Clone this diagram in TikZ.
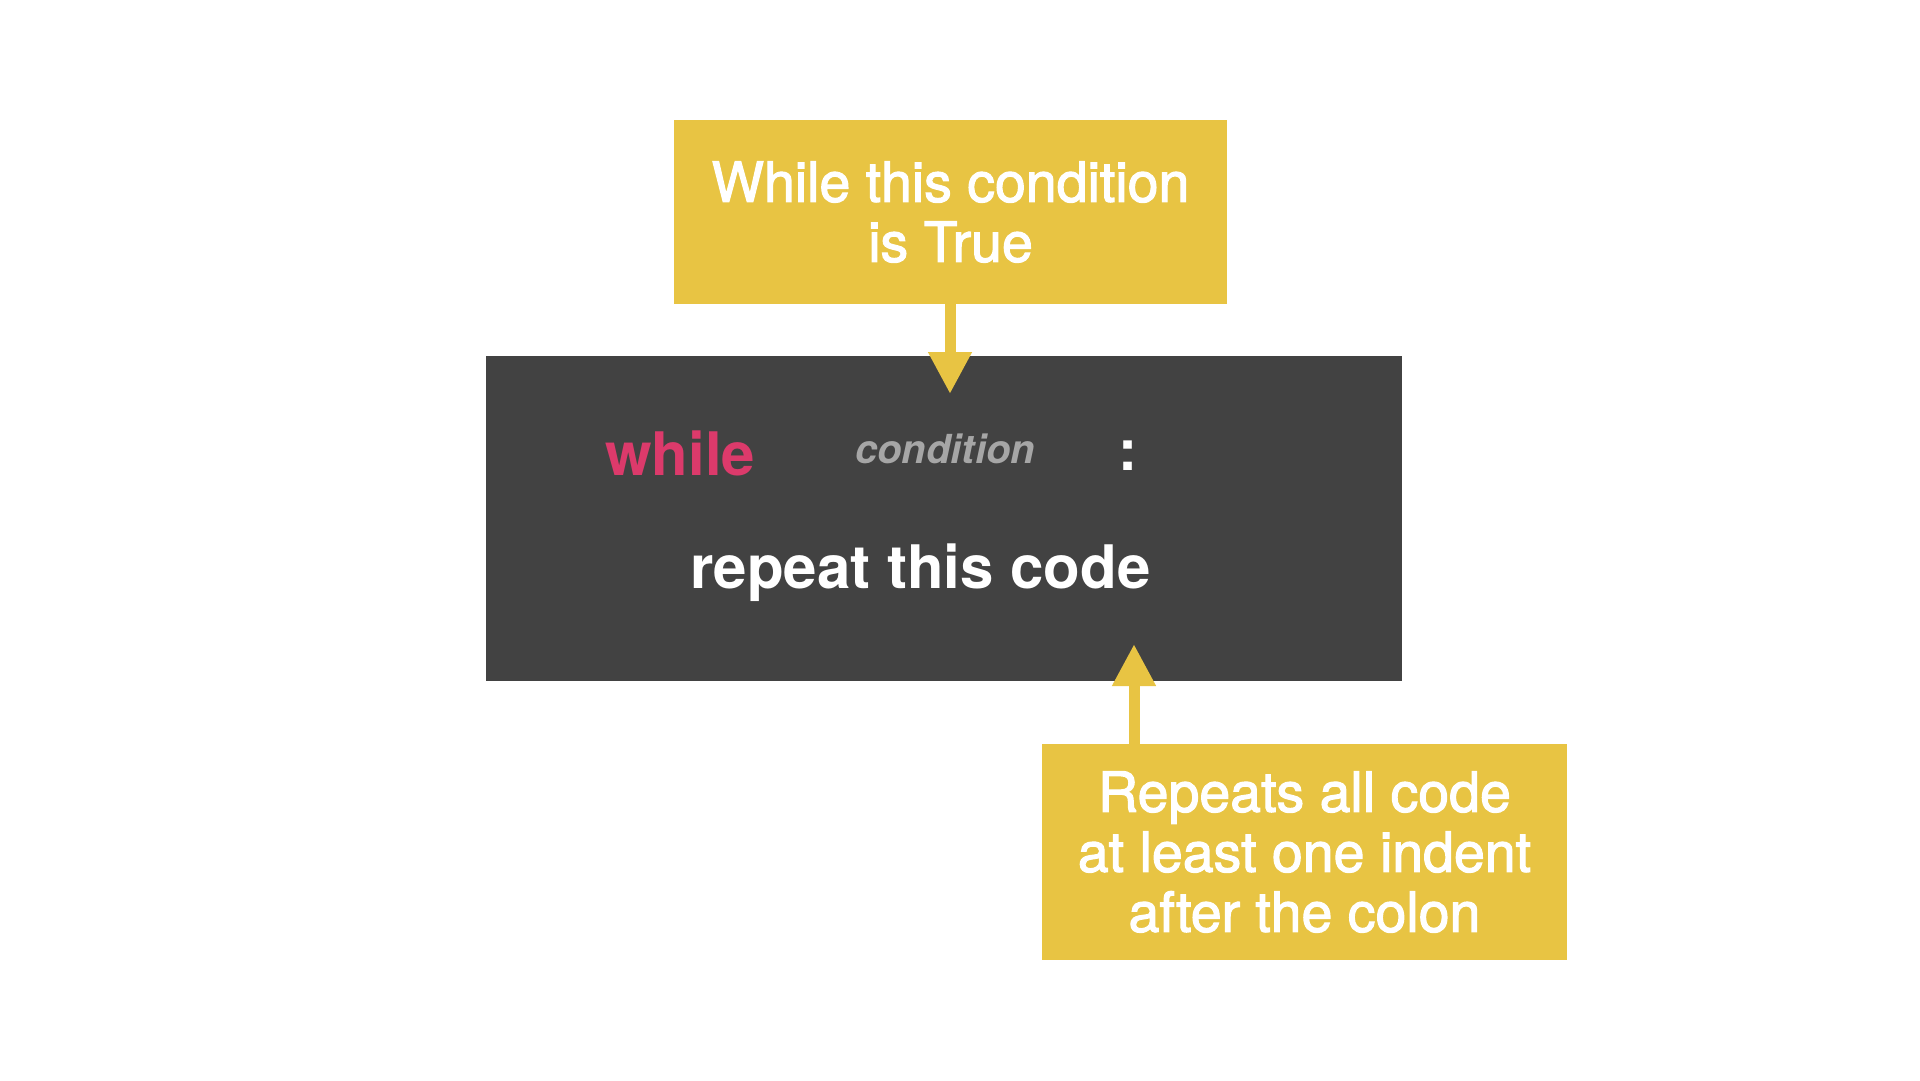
\documentclass[tikz,border=0pt]{standalone}
\usepackage{fontspec}
\setmainfont{TeX Gyre Heros}
\newfontfamily\notefont{TeX Gyre Heros}[FakeBold=2]
\usetikzlibrary{arrows.meta}
\definecolor{ybox}{RGB}{232,196,67}
\definecolor{dbox}{RGB}{66,66,66}
\definecolor{kwcol}{RGB}{220,58,107}
\definecolor{condcol}{RGB}{166,166,166}
\begin{document}
\begin{tikzpicture}[x=1pt,y=-1pt,
  note/.style={fill=ybox, text=white, align=center, inner sep=0pt,
    font=\notefont\fontsize{55.5}{60}\selectfont},
  codebox/.style={fill=dbox, inner sep=0pt},
  codetxt/.style={inner sep=0pt, font=\bfseries\fontsize{60}{60}\selectfont},
  conn/.style={draw=ybox, line width=11pt, -{Triangle[length=42pt,width=41pt]}}]
\fill[white] (0,0) rectangle (1920,1080);
\useasboundingbox (0,0) rectangle (1920,1080);
\node[note, minimum width=553pt, minimum height=184pt] (top) at (950.5,212) {While this condition\\is True};
\node[codebox, minimum width=916pt, minimum height=325pt] (code) at (944,518.5) {};
\node[note, minimum width=525pt, minimum height=216pt] (bot) at (1304.5,852) {Repeats all code\\at least one indent\\after the colon};
\node[codetxt, text=kwcol, anchor=base west] (kw) at (605,475) {while};
\node[codetxt, text=condcol, anchor=base west, font=\bfseries\itshape\fontsize{40}{40}\selectfont] (cnd) at (855,463) {condition};
\node[codetxt, text=white, anchor=base, font=\bfseries\fontsize{57}{57}\selectfont] (colon) at (1128,470) {:};
\node[codetxt, text=white, anchor=base west] (body) at (690,588) {repeat this code};
\coordinate (tip1) at (950,394);
\coordinate (tip2) at (1134,644);
\draw[conn] (top.south -| tip1) -- (tip1);
\draw[conn] (bot.north -| tip2) -- (tip2);
\end{tikzpicture}
\end{document}
